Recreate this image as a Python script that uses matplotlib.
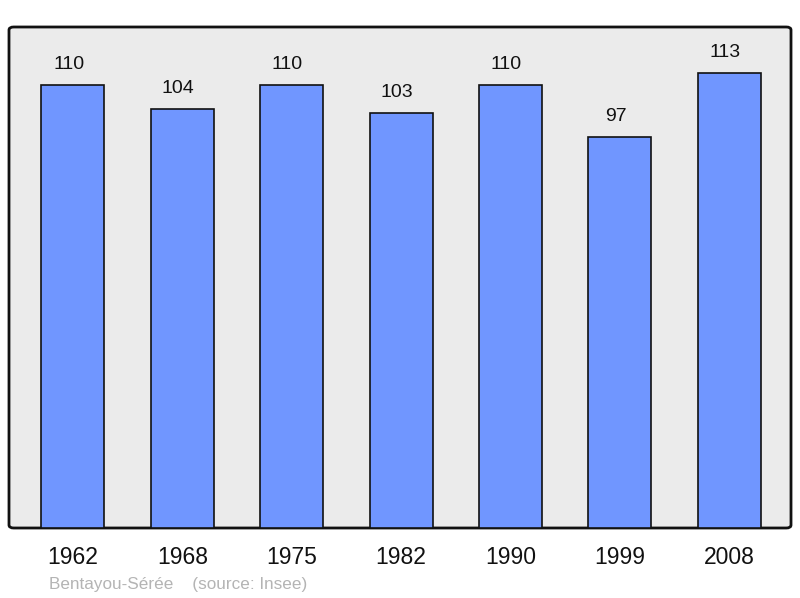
import matplotlib
matplotlib.use("Agg")
import matplotlib.pyplot as plt
from matplotlib.patches import FancyBboxPatch

years = ["1962", "1968", "1975", "1982", "1990", "1999", "2008"]
population = [110, 104, 110, 103, 110, 97, 113]

BAR = "#7096ff"
BG = "#ebebeb"
INK = "#111111"

plt.rcParams["font.family"] = ["Liberation Sans", "DejaVu Sans"]

fig = plt.figure(figsize=(8, 5.98), dpi=100)
ax = fig.add_axes([9 / 800, 70 / 598, 782 / 800, 501 / 598])
ax.set_xlim(-0.585, 6.565)
ax.set_ylim(0, 124.4)
ax.axis("off")

# rounded background frame
ax.add_patch(FancyBboxPatch((0, 0), 1, 1, boxstyle="round,pad=0,rounding_size=0.006",
                            transform=ax.transAxes, facecolor=BG, edgecolor=INK,
                            linewidth=2, zorder=0, clip_on=False))

xs = range(len(years))
ax.bar(xs, population, width=0.576, color=BAR, edgecolor=INK, linewidth=1.2, zorder=2)

for x, v in zip(xs, population):
    ax.annotate(str(v), (x, v), xytext=(-3, 15), textcoords="offset points",
                ha="center", va="center", fontsize=14, color=INK)
    ax.annotate(years[x], (x, 0), xytext=(0, -21), textcoords="offset points",
                ha="center", va="center", fontsize=16.5, color=INK, annotation_clip=False)

fig.text(49 / 800, 1 - 585 / 598, "Bentayou-Sérée    (source: Insee)",
         ha="left", va="center", fontsize=12.3, color="#b4b4b4")

fig.savefig("out.png", dpi=100)
